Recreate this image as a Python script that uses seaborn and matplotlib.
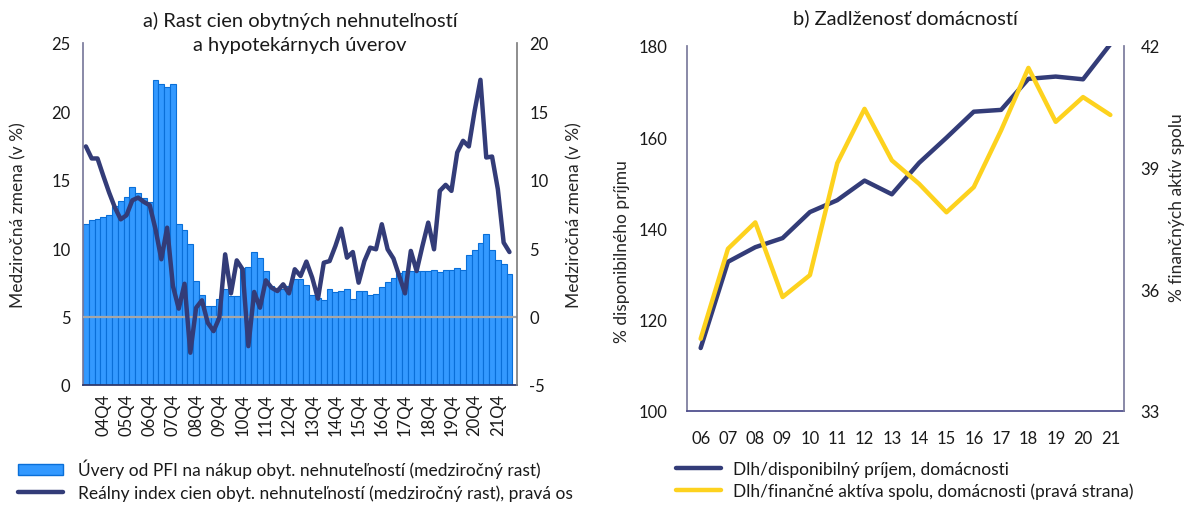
import numpy as np
import pandas as pd
import matplotlib
matplotlib.use("Agg")
import matplotlib.pyplot as plt
import seaborn as sns
from matplotlib.patches import Patch
from matplotlib.lines import Line2D

sns.set_theme(style="white")
plt.rcParams['font.family'] = ['Lato', 'DejaVu Sans']
plt.rcParams['axes.unicode_minus'] = False
plt.rcParams['text.color'] = '#1a1a1a'
plt.rcParams['xtick.color'] = '#1a1a1a'
plt.rcParams['ytick.color'] = '#1a1a1a'

# ---- panel a) quarterly data, 04Q1 .. 22Q2 ----
quarters = [f"{y:02d}Q{q}" for y in range(4, 23) for q in range(1, 5)][:74]

# Loans from MFIs for house purchase, y/y growth (%), left axis
loan_growth = [
    11.75, 12.04, 12.14, 12.31, 12.41, 13.10, 13.45, 13.75, 14.45, 14.00,
    13.65, 13.35, 22.30, 22.00, 21.80, 22.00, 11.80, 11.30, 10.30, 7.62,
    6.57, 5.77, 5.77, 6.30, 7.04, 6.50, 6.54, 8.52, 8.66, 9.70,
    9.31, 8.30, 7.23, 7.03, 7.03, 7.25, 7.72, 7.72, 7.33, 6.55,
    6.38, 6.18, 7.04, 6.80, 6.84, 7.04, 6.26, 6.87, 6.89, 6.60,
    6.62, 7.16, 7.53, 7.85, 8.16, 8.36, 8.31, 8.31, 8.31, 8.36,
    8.43, 8.26, 8.43, 8.43, 8.58, 8.43, 9.48, 9.90, 10.41, 11.07,
    9.90, 9.11, 8.87, 8.09,
]

# Real residential property price index, y/y growth (%), right axis
price_growth = [
    12.44, 11.56, 11.56, 10.29, 9.07, 7.97, 7.11, 7.41, 8.50, 8.70,
    8.38, 8.14, 6.38, 4.19, 6.50, 2.23, 0.58, 2.40, -2.64, 0.65,
    1.19, -0.45, -1.06, -0.08, 4.55, 1.70, 4.11, 3.46, -2.16, 1.80,
    0.65, 2.65, 2.11, 1.87, 2.36, 1.70, 3.46, 2.97, 4.02, 2.85,
    1.31, 3.94, 4.06, 5.16, 6.43, 4.31, 4.72, 2.48, 4.06, 5.04,
    4.92, 6.75, 4.92, 4.25, 2.97, 1.70, 4.80, 3.33, 5.16, 6.87,
    4.92, 9.19, 9.63, 9.19, 12.00, 12.85, 12.44, 15.04, 17.31, 11.63,
    11.70, 9.31, 5.41, 4.72,
]

# ---- panel b) annual data, 2006 .. 2021 ----
years = ["06", "07", "08", "09", "10", "11", "12", "13",
         "14", "15", "16", "17", "18", "19", "20", "21"]
debt_to_income = [113.8, 132.7, 135.9, 137.9, 143.6, 146.2, 150.5, 147.5,
                  154.4, 159.9, 165.6, 166.0, 172.8, 173.3, 172.7, 180.4]
debt_to_assets = [34.78, 37.00, 37.65, 35.81, 36.35, 39.11, 40.45, 39.18,
                  38.60, 37.90, 38.52, 39.92, 41.46, 40.13, 40.74, 40.30]

NAVY = "#333c78"
YELLOW = "#fdd21e"
BAR = "#3399ff"
BAR_EDGE = "#0a6fd8"
SPINE = "#7b7b9c"
FS = 12
FS_LAB = 12.5
FS_LEG = 12.5
FS_TITLE = 14.5

W, H = 1184, 506
fig = plt.figure(figsize=(W / 100, H / 100), dpi=100)


def rect(l, t, r, b):
    return [l / W, 1 - b / H, (r - l) / W, (b - t) / H]


# ================= panel a =================
ax1 = fig.add_axes(rect(83, 44, 517, 386))
df_a = pd.DataFrame({"quarter": quarters, "loans": loan_growth})
sns.barplot(data=df_a, x="quarter", y="loans", ax=ax1, color=BAR,
            saturation=1, width=1.0, edgecolor=BAR_EDGE, linewidth=0.8)
ax1.set_ylim(0, 25)
ax1.set_yticks(range(0, 26, 5))
ax1.set_ylabel("Medziročná zmena (v %)", fontsize=FS_LAB)
ax1.yaxis.set_label_coords(-0.131, 0.5)
ax1.set_xlabel("")

ax2 = ax1.twinx()
ax2.axhline(0, color="#a6a6a6", lw=1.6, zorder=1)
sns.lineplot(x=np.arange(len(price_growth)), y=price_growth, ax=ax2,
             color=NAVY, lw=3.2, zorder=3)
ax2.set_ylim(-5, 20)
ax2.set_yticks(range(-5, 21, 5))
ax2.set_ylabel("Medziročná zmena (v %)", fontsize=FS_LAB, rotation=90)
ax2.yaxis.set_label_coords(1.113, 0.5)

tick_idx = list(range(3, len(quarters), 4))
ax1.set_xticks(tick_idx)
ax1.set_xticklabels([quarters[i] for i in tick_idx], rotation=90, fontsize=FS)
ax1.set_xlim(-0.5, len(quarters) + 0.3)
ax2.set_xlim(-0.5, len(quarters) + 0.3)

for ax in (ax1, ax2):
    ax.tick_params(axis="both", length=0, labelsize=FS)
    ax.grid(False)
    for s in ax.spines.values():
        s.set_visible(False)
ax1.tick_params(axis="y", pad=9)
ax1.tick_params(axis="x", pad=6)
ax2.tick_params(axis="y", pad=9)
ax1.spines["left"].set_visible(True)
ax1.spines["left"].set_color(SPINE)
ax1.spines["bottom"].set_visible(True)
ax1.spines["bottom"].set_color("#2f3a6e")
ax1.spines["bottom"].set_linewidth(1.3)
ax2.spines["right"].set_visible(True)
ax2.spines["right"].set_color("#808080")

fig.text(300 / W, 1 - 33 / H, "a) Rast cien obytných nehnuteľností\na hypotekárnych úverov",
         ha="center", va="center", fontsize=FS_TITLE, linespacing=1.5)

fig.legend(handles=[Patch(facecolor=BAR, edgecolor=BAR_EDGE),
                    Line2D([], [], color=NAVY, lw=3.2)],
           labels=["Úvery od PFI na nákup obyt. nehnuteľností (medziročný rast)",
                   "Reálny index cien obyt. nehnuteľností (medziročný rast), pravá os"],
           loc="upper left", bbox_to_anchor=(18 / W, 1 - 460 / H), frameon=False,
           fontsize=FS_LEG, handlelength=2.6, handleheight=0.6, handletextpad=0.85,
           labelspacing=0.32, borderaxespad=0, borderpad=0)

# ================= panel b =================
ax3 = fig.add_axes(rect(687, 47, 1124, 412))
sns.lineplot(x=years, y=debt_to_income, ax=ax3, color=NAVY, lw=3.2,
             sort=False, zorder=3)
ax3.set_ylim(100, 180)
ax3.set_yticks(range(100, 181, 20))
ax3.set_ylabel("% disponibilného príjmu", fontsize=FS_LAB)
ax3.yaxis.set_label_coords(-0.130, 0.44)

ax4 = ax3.twinx()
sns.lineplot(x=list(range(len(years))), y=debt_to_assets, ax=ax4,
             color=YELLOW, lw=3.2, zorder=2)
ax4.set_ylim(33, 42)
ax4.set_yticks([33, 36, 39, 42])
ax4.set_ylabel("% finančných aktív spolu", fontsize=FS_LAB, rotation=90)
ax4.yaxis.set_label_coords(1.103, 0.56)

ax3.set_xlim(-0.5, len(years) - 0.5)
ax4.set_xlim(-0.5, len(years) - 0.5)
ax3.set_xticks(range(len(years)))
ax3.set_xticklabels(years)
for ax in (ax3, ax4):
    ax.tick_params(axis="both", length=0, labelsize=FS)
    ax.grid(False)
    ax.set_xlabel("")
    for s in ax.spines.values():
        s.set_visible(False)
ax3.tick_params(axis="y", pad=14)
ax3.tick_params(axis="x", pad=14)
ax4.tick_params(axis="y", pad=12)
ax3.spines["left"].set_visible(True)
ax3.spines["left"].set_color(SPINE)
ax3.spines["bottom"].set_visible(True)
ax3.spines["bottom"].set_color("#4a4a8a")
ax4.spines["right"].set_visible(True)
ax4.spines["right"].set_color(SPINE)

fig.text(905 / W, 1 - 18 / H, "b) Zadlženosť domácností",
         ha="center", va="center", fontsize=FS_TITLE)

fig.legend(handles=[Line2D([], [], color=NAVY, lw=3.2),
                    Line2D([], [], color=YELLOW, lw=3.2)],
           labels=["Dlh/disponibilný príjem, domácnosti",
                   "Dlh/finančné aktíva spolu, domácnosti (pravá strana)"],
           loc="upper left", bbox_to_anchor=(676 / W, 1 - 462 / H), frameon=False,
           fontsize=FS_LEG, handlelength=2.6, handletextpad=0.7,
           labelspacing=0.32, borderaxespad=0, borderpad=0)

fig.savefig("out.png", dpi=100)
